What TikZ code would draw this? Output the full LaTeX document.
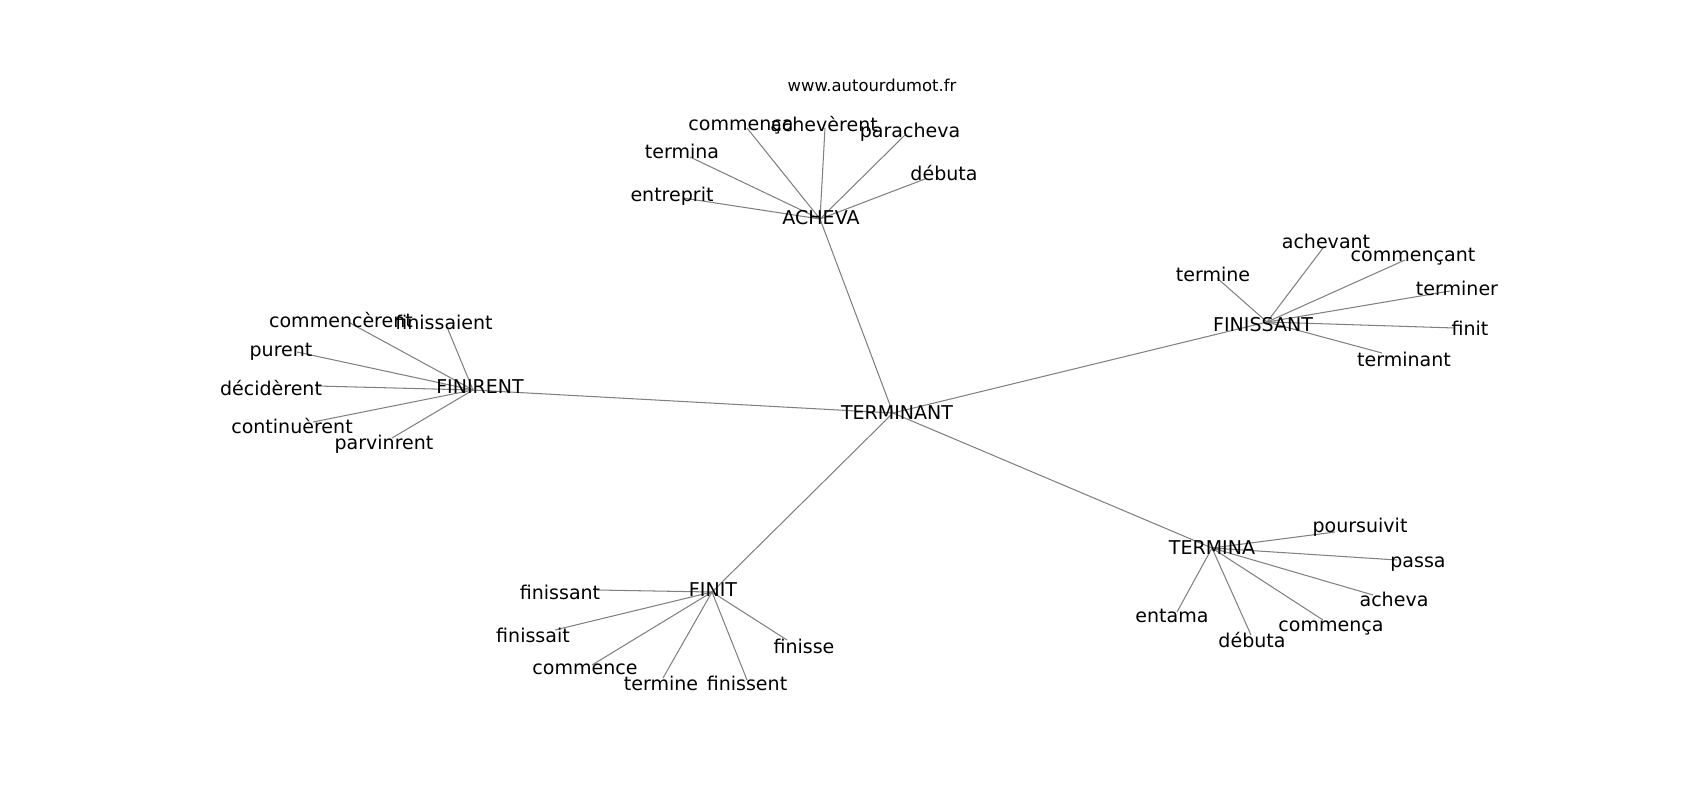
\documentclass[tikz,border=0pt]{standalone}
\usepackage{fontspec}
\setmainfont{DejaVu Sans}

\tikzset{
  word/.style={font=\fontsize{13.7}{16}\selectfont, inner sep=0pt,
    text height=0.76em, text depth=0.24em, yshift=-2.3pt},
  link/.style={draw=black!50, line width=0.75pt},
}

\begin{document}
\begin{tikzpicture}[x=0.72pt,y=-0.72pt]
  \useasboundingbox (0,0) rectangle (1700,800);

  % points where the links meet
  \coordinate (terminant) at (893,413);
  \coordinate (acheva) at (820,219);
  \coordinate (finirent) at (473,390);
  \coordinate (finissant) at (1267,322);
  \coordinate (finit) at (712,592);
  \coordinate (termina) at (1212,548);

  \coordinate (ach-commenca) at (747,128);
  \coordinate (ach-acheverent) at (825,128);
  \coordinate (ach-paracheva) at (905,135);
  \coordinate (ach-termina) at (690,157);
  \coordinate (ach-debuta) at (925,179);
  \coordinate (ach-entreprit) at (683,198);

  \coordinate (fre-commencerent) at (350,323);
  \coordinate (fre-finissaient) at (447,327);
  \coordinate (fre-purent) at (297,352);
  \coordinate (fre-deciderent) at (317,386);
  \coordinate (fre-continuerent) at (313,422);
  \coordinate (fre-parvinrent) at (392,438);

  \coordinate (fsa-achevant) at (1323,248);
  \coordinate (fsa-commencant) at (1405,260);
  \coordinate (fsa-termine) at (1217,278);
  \coordinate (fsa-terminer) at (1450,291);
  \coordinate (fsa-finit) at (1455,328);
  \coordinate (fsa-terminant) at (1382,353);

  \coordinate (fit-finissant) at (597,590);
  \coordinate (fit-finissait) at (555,630);
  \coordinate (fit-commence) at (592,665);
  \coordinate (fit-termine) at (663,678);
  \coordinate (fit-finissent) at (747,680);
  \coordinate (fit-finisse) at (787,640);

  \coordinate (tna-poursuivit) at (1335,532);
  \coordinate (tna-passa) at (1397,560);
  \coordinate (tna-acheva) at (1373,595);
  \coordinate (tna-commenca) at (1323,620);
  \coordinate (tna-debuta) at (1251,635);
  \coordinate (tna-entama) at (1177,612);

  % links
  \foreach \hub in {acheva,finirent,finissant,finit,termina}
    \draw[link] (terminant) -- (\hub);
  \foreach \leaf in {commenca,acheverent,paracheva,termina,debuta,entreprit}
    \draw[link] (acheva) -- (ach-\leaf);
  \foreach \leaf in {commencerent,finissaient,purent,deciderent,continuerent,parvinrent}
    \draw[link] (finirent) -- (fre-\leaf);
  \foreach \leaf in {achevant,commencant,termine,terminer,finit,terminant}
    \draw[link] (finissant) -- (fsa-\leaf);
  \foreach \leaf in {finissant,finissait,commence,termine,finissent,finisse}
    \draw[link] (finit) -- (fit-\leaf);
  \foreach \leaf in {poursuivit,passa,acheva,commenca,debuta,entama}
    \draw[link] (termina) -- (tna-\leaf);

  % words
  \node[font=\fontsize{11.8}{14}\selectfont, yshift=-1.5pt] (site) at (872,83) {www.autourdumot.fr};

  \node[word] (terminant-w) at (897,413) {TERMINANT};
  \node[word] (acheva-w) at (821,218) {ACHEVA};
  \node[word] (finirent-w) at (480,387) {FINIRENT};
  \node[word] (finissant-w) at (1263,325) {FINISSANT};
  \node[word] (finit-w) at (713,590) {FINIT};
  \node[word] (termina-w) at (1212,548) {TERMINA};

  \node[word] (ach-commenca-w) at (741,124) {commença};
  \node[word] (ach-acheverent-w) at (824,125) {achevèrent};
  \node[word] (ach-paracheva-w) at (910,131) {paracheva};
  \node[word] (ach-termina-w) at (682,152) {termina};
  \node[word] (ach-debuta-w) at (944,174) {débuta};
  \node[word] (ach-entreprit-w) at (672,195) {entreprit};

  \node[word] (fre-commencerent-w) at (341,321) {commencèrent};
  \node[word] (fre-finissaient-w) at (444,323) {finissaient};
  \node[word] (fre-purent-w) at (281,350) {purent};
  \node[word] (fre-deciderent-w) at (271,389) {décidèrent};
  \node[word] (fre-continuerent-w) at (292,427) {continuèrent};
  \node[word] (fre-parvinrent-w) at (384,443) {parvinrent};

  \node[word] (fsa-achevant-w) at (1326,242) {achevant};
  \node[word] (fsa-commencant-w) at (1413,255) {commençant};
  \node[word] (fsa-termine-w) at (1213,275) {termine};
  \node[word] (fsa-terminer-w) at (1457,289) {terminer};
  \node[word] (fsa-finit-w) at (1470,329) {finit};
  \node[word] (fsa-terminant-w) at (1404,360) {terminant};

  \node[word] (fit-finissant-w) at (560,593) {finissant};
  \node[word] (fit-finissait-w) at (533,636) {finissait};
  \node[word] (fit-commence-w) at (585,668) {commence};
  \node[word] (fit-termine-w) at (661,684) {termine};
  \node[word] (fit-finissent-w) at (747,684) {finissent};
  \node[word] (fit-finisse-w) at (804,647) {finisse};

  \node[word] (tna-poursuivit-w) at (1360,526) {poursuivit};
  \node[word] (tna-passa-w) at (1418,561) {passa};
  \node[word] (tna-acheva-w) at (1394,600) {acheva};
  \node[word] (tna-commenca-w) at (1331,625) {commença};
  \node[word] (tna-debuta-w) at (1252,641) {débuta};
  \node[word] (tna-entama-w) at (1172,616) {entama};
\end{tikzpicture}
\end{document}
